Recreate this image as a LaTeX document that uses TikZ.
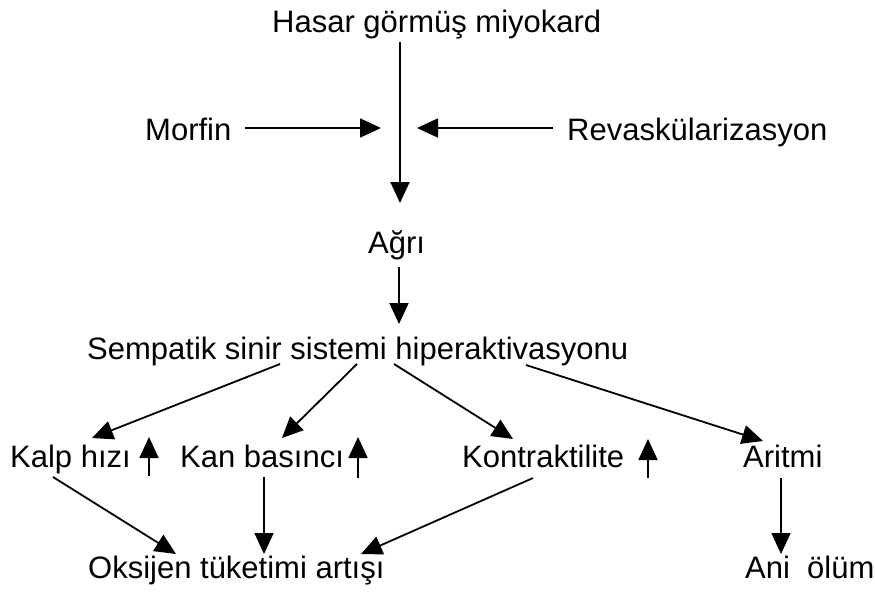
\documentclass[tikz,border=0pt]{standalone}
\usepackage{fontspec}
\setmainfont{Liberation Sans}
\usetikzlibrary{arrows.meta}
\begin{document}
\begin{tikzpicture}[x=1pt,y=-1pt,
  lbl/.style={inner sep=0pt,anchor=base west,font=\fontsize{31}{36}\selectfont},
  arr/.style={line width=1.8pt,-{Triangle[length=21pt,width=19pt]}}]
\useasboundingbox (0,0) rectangle (875,595);
\fill[white] (0,0) rectangle (875,595);

% labels
\node[lbl] (hasar) at (272,32) {Hasar görmüş miyokard};
\node[lbl] (morfin) at (145,140) {Morfin};
\node[lbl] (revask) at (567,140) {Revaskülarizasyon};
\node[lbl] (agri) at (368,253) {Ağrı};
\node[lbl] (symp) at (87,359) {Sempatik sinir sistemi hiperaktivasyonu};
\node[lbl] (kalp) at (10,467) {Kalp hızı};
\node[lbl] (kan) at (180,467) {Kan basıncı};
\node[lbl] (kontr) at (462,467) {Kontraktilite};
\node[lbl] (aritmi) at (743,467) {Aritmi};
\node[lbl] (oksijen) at (88,578) {Oksijen tüketimi artışı};
\node[lbl] (ani) at (745,578) {Ani\ \ ölüm};

% connector end points
\coordinate (hasarOut) at (400,42);
\coordinate (agriIn) at (400,203);
\coordinate (morfinOut) at (245,128);
\coordinate (morfinIn) at (381,128);
\coordinate (revaskOut) at (553,128);
\coordinate (revaskIn) at (417,128);
\coordinate (agriOut) at (399,267);
\coordinate (sympIn) at (399,324);
\coordinate (s1) at (280,364);
\coordinate (s2) at (357,364);
\coordinate (s3) at (394,364);
\coordinate (s4) at (526,365);
\coordinate (kalpIn) at (92,438);
\coordinate (kanIn) at (282,438);
\coordinate (kontrIn) at (513,439);
\coordinate (aritmiIn) at (763,441);
\coordinate (kalpOut) at (53,477);
\coordinate (kanOut) at (264,477);
\coordinate (kontrOut) at (533,478);
\coordinate (aritmiOut) at (781,478);
\coordinate (oks1) at (176,554);
\coordinate (oks2) at (264,554);
\coordinate (oks3) at (361,554);
\coordinate (aniIn) at (781,554);
% rising indicators beside the labels
\coordinate (up1a) at (149,476);
\coordinate (up1b) at (149,437);
\coordinate (up2a) at (358,478);
\coordinate (up2b) at (358,437);
\coordinate (up3a) at (648,478);
\coordinate (up3b) at (648,439);

% connectors
\draw[arr] (hasarOut) -- (agriIn);
\draw[arr] (morfinOut) -- (morfinIn);
\draw[arr] (revaskOut) -- (revaskIn);
\draw[arr] (agriOut) -- (sympIn);
\draw[arr] (s1) -- (kalpIn);
\draw[arr] (s2) -- (kanIn);
\draw[arr] (s3) -- (kontrIn);
\draw[arr] (s4) -- (aritmiIn);
\draw[arr] (kalpOut) -- (oks1);
\draw[arr] (kanOut) -- (oks2);
\draw[arr] (kontrOut) -- (oks3);
\draw[arr] (aritmiOut) -- (aniIn);
\draw[arr] (up1a) -- (up1b);
\draw[arr] (up2a) -- (up2b);
\draw[arr] (up3a) -- (up3b);
\end{tikzpicture}
\end{document}
